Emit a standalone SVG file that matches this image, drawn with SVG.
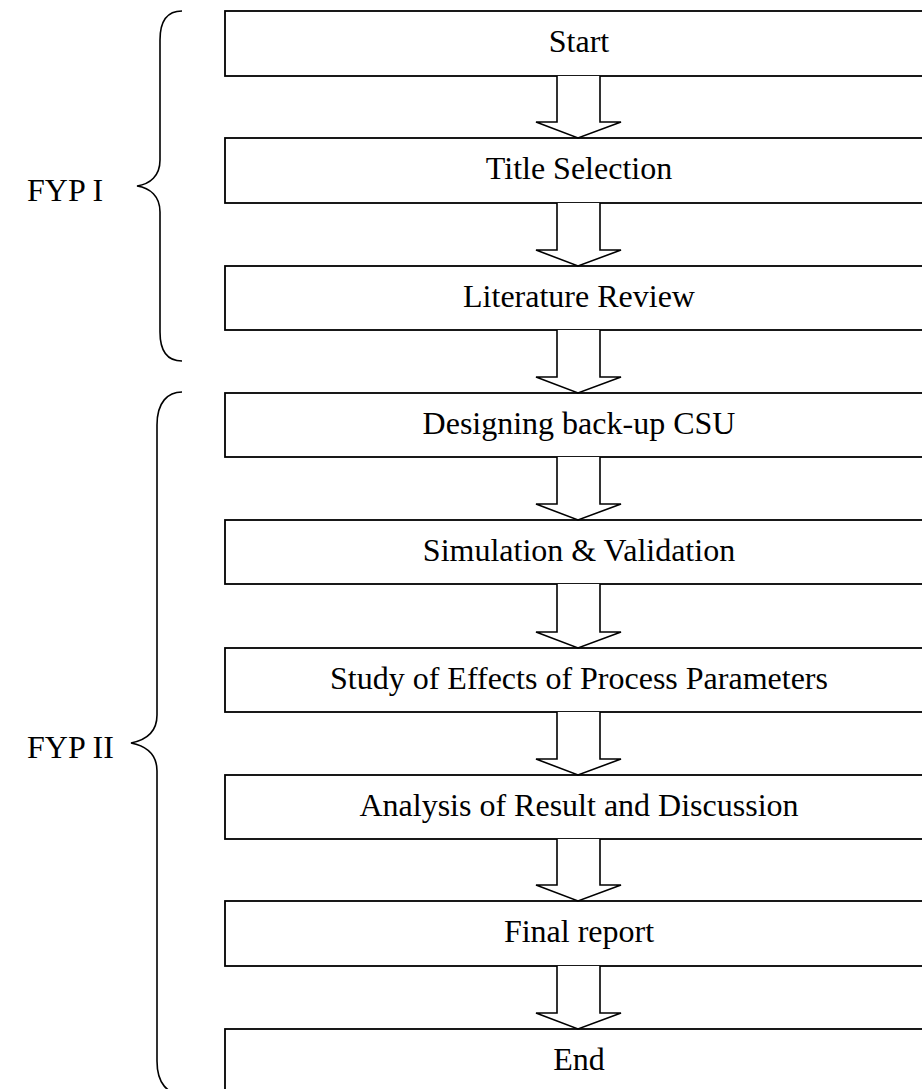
<svg xmlns="http://www.w3.org/2000/svg" width="922" height="1089" viewBox="0 0 922 1089">
  <style>
    .box { fill: #ffffff; stroke: #000000; stroke-width: 1.8; }
    .label { font-family: "Liberation Serif", "Times New Roman", serif; font-size: 32px; fill: #000000; text-anchor: middle; }
    .side { font-family: "Liberation Serif", "Times New Roman", serif; font-size: 32px; fill: #000000; }
    .arrow { fill: #ffffff; stroke: #000000; stroke-width: 1.6; stroke-linejoin: miter; }
    .brace { fill: none; stroke: #000000; stroke-width: 1.6; }
  </style>

  <!-- phase braces -->
  <g id="brace-fyp1">
    <path class="brace" d="M182,11 C168,11 160,20 160,40 L160,160 C160,176 150,184 137,186 C150,188 160,196 160,212 L160,332 C160,352 168,361 182,361"/>
    <text class="side" x="27" y="201">FYP I</text>
  </g>
  <g id="brace-fyp2">
    <path class="brace" d="M182,392 C168,392 157,402 157,425 L157,715 C157,732 146,740 131,743 C146,746 157,754 157,771 L157,1061 C157,1084 168,1094 182,1094"/>
    <text class="side" x="27" y="758">FYP II</text>
  </g>

  <!-- process steps -->
  <g id="start"><rect class="box" x="225" y="11" width="708" height="65"/><text class="label" x="579" y="52">Start</text></g>
  <g id="title-selection"><rect class="box" x="225" y="138" width="708" height="65"/><text class="label" x="579" y="179">Title Selection</text></g>
  <g id="literature-review"><rect class="box" x="225" y="266" width="708" height="64"/><text class="label" x="579" y="307">Literature Review</text></g>
  <g id="designing"><rect class="box" x="225" y="393" width="708" height="64"/><text class="label" x="579" y="434">Designing back-up CSU</text></g>
  <g id="simulation"><rect class="box" x="225" y="520" width="708" height="64"/><text class="label" x="579" y="561">Simulation &amp; Validation</text></g>
  <g id="study"><rect class="box" x="225" y="648" width="708" height="64"/><text class="label" x="579" y="689">Study of Effects of Process Parameters</text></g>
  <g id="analysis"><rect class="box" x="225" y="775" width="708" height="64"/><text class="label" x="579" y="816">Analysis of Result and Discussion</text></g>
  <g id="final-report"><rect class="box" x="225" y="901" width="708" height="65"/><text class="label" x="579" y="942">Final report</text></g>
  <g id="end"><rect class="box" x="225" y="1029" width="708" height="70"/><text class="label" x="579" y="1070">End</text></g>

  <!-- block arrows between steps -->
  <g id="connectors">
    <polyline class="arrow" points="557,76 557,122 536,122 578,138 621,122 600,122 600,76"/>
    <polyline class="arrow" points="557,203 557,250 536,250 578,266 621,250 600,250 600,203"/>
    <polyline class="arrow" points="557,330 557,377 536,377 578,393 621,377 600,377 600,330"/>
    <polyline class="arrow" points="557,457 557,504 536,504 578,520 621,504 600,504 600,457"/>
    <polyline class="arrow" points="557,584 557,632 536,632 578,648 621,632 600,632 600,584"/>
    <polyline class="arrow" points="557,712 557,759 536,759 578,775 621,759 600,759 600,712"/>
    <polyline class="arrow" points="557,839 557,885 536,885 578,901 621,885 600,885 600,839"/>
    <polyline class="arrow" points="557,966 557,1013 536,1013 578,1029 621,1013 600,1013 600,966"/>
  </g>
</svg>
